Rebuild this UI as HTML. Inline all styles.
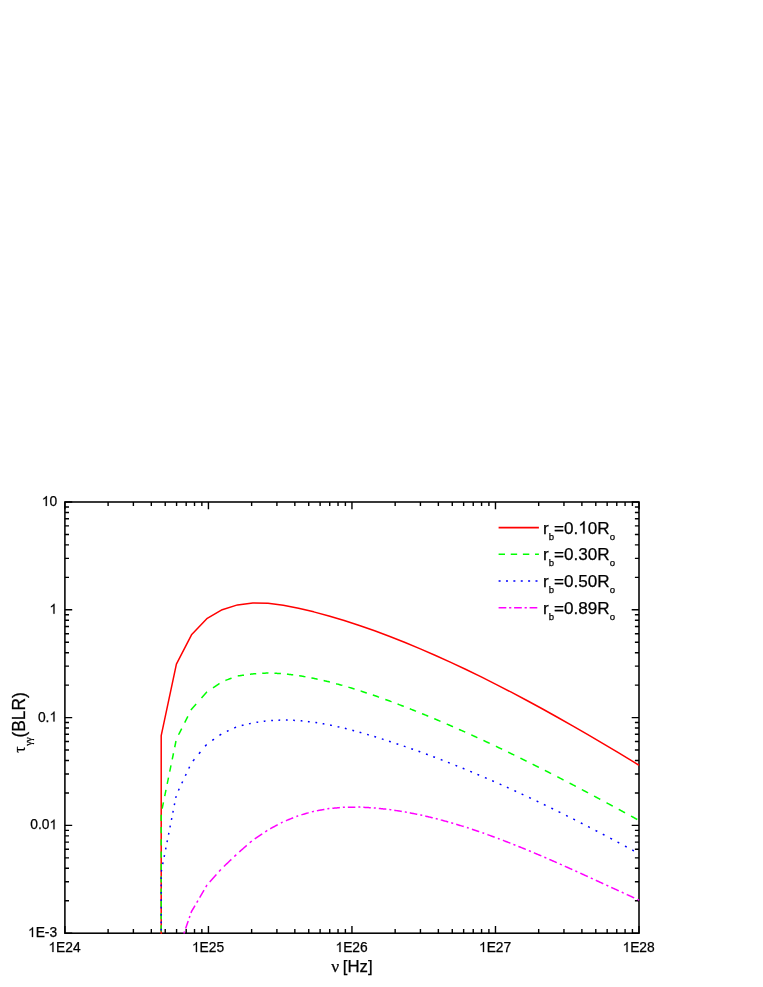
<!DOCTYPE html>
<html><head><meta charset="utf-8"><title>tau BLR</title>
<style>
html,body{margin:0;padding:0;background:#fff;}
body{width:763px;height:987px;overflow:hidden;font-family:"Liberation Sans",sans-serif;}
svg{display:block;}
svg text{font-family:"Liberation Sans",sans-serif;fill:#000;stroke:#000;stroke-width:0.25px;}
.sym{font-family:"Liberation Serif",serif;}
svg text{font-kerning:none;}
.h{fill:none;stroke:none;}
</style></head><body>
<svg width="763" height="987" viewBox="0 0 763 987">
<rect width="763" height="987" fill="#fff"/>
<rect x="64.9" y="502" width="574.1" height="431.2" fill="none" stroke="#000" stroke-width="1.55"/>
<path d="M64.9 933.2v-7.3M64.9 502v7.3M64.9 933.2h7.3M639 933.2h-7.3M108.11 933.2v-4.1M108.11 502v4.1M64.9 900.75h4.1M639 900.75h-4.1M133.38 933.2v-4.1M133.38 502v4.1M64.9 881.77h4.1M639 881.77h-4.1M151.31 933.2v-4.1M151.31 502v4.1M64.9 868.3h4.1M639 868.3h-4.1M165.22 933.2v-4.1M165.22 502v4.1M64.9 857.85h4.1M639 857.85h-4.1M176.58 933.2v-4.1M176.58 502v4.1M64.9 849.32h4.1M639 849.32h-4.1M186.19 933.2v-4.1M186.19 502v4.1M64.9 842.1h4.1M639 842.1h-4.1M194.52 933.2v-4.1M194.52 502v4.1M64.9 835.85h4.1M639 835.85h-4.1M201.86 933.2v-4.1M201.86 502v4.1M64.9 830.33h4.1M639 830.33h-4.1M208.43 933.2v-7.3M208.43 502v7.3M64.9 825.4h7.3M639 825.4h-7.3M251.63 933.2v-4.1M251.63 502v4.1M64.9 792.95h4.1M639 792.95h-4.1M276.9 933.2v-4.1M276.9 502v4.1M64.9 773.97h4.1M639 773.97h-4.1M294.84 933.2v-4.1M294.84 502v4.1M64.9 760.5h4.1M639 760.5h-4.1M308.74 933.2v-4.1M308.74 502v4.1M64.9 750.05h4.1M639 750.05h-4.1M320.11 933.2v-4.1M320.11 502v4.1M64.9 741.52h4.1M639 741.52h-4.1M329.72 933.2v-4.1M329.72 502v4.1M64.9 734.3h4.1M639 734.3h-4.1M338.04 933.2v-4.1M338.04 502v4.1M64.9 728.05h4.1M639 728.05h-4.1M345.38 933.2v-4.1M345.38 502v4.1M64.9 722.53h4.1M639 722.53h-4.1M351.95 933.2v-7.3M351.95 502v7.3M64.9 717.6h7.3M639 717.6h-7.3M395.16 933.2v-4.1M395.16 502v4.1M64.9 685.15h4.1M639 685.15h-4.1M420.43 933.2v-4.1M420.43 502v4.1M64.9 666.17h4.1M639 666.17h-4.1M438.36 933.2v-4.1M438.36 502v4.1M64.9 652.7h4.1M639 652.7h-4.1M452.27 933.2v-4.1M452.27 502v4.1M64.9 642.25h4.1M639 642.25h-4.1M463.63 933.2v-4.1M463.63 502v4.1M64.9 633.72h4.1M639 633.72h-4.1M473.24 933.2v-4.1M473.24 502v4.1M64.9 626.5h4.1M639 626.5h-4.1M481.57 933.2v-4.1M481.57 502v4.1M64.9 620.25h4.1M639 620.25h-4.1M488.91 933.2v-4.1M488.91 502v4.1M64.9 614.73h4.1M639 614.73h-4.1M495.48 933.2v-7.3M495.48 502v7.3M64.9 609.8h7.3M639 609.8h-7.3M538.68 933.2v-4.1M538.68 502v4.1M64.9 577.35h4.1M639 577.35h-4.1M563.95 933.2v-4.1M563.95 502v4.1M64.9 558.37h4.1M639 558.37h-4.1M581.89 933.2v-4.1M581.89 502v4.1M64.9 544.9h4.1M639 544.9h-4.1M595.79 933.2v-4.1M595.79 502v4.1M64.9 534.45h4.1M639 534.45h-4.1M607.16 933.2v-4.1M607.16 502v4.1M64.9 525.92h4.1M639 525.92h-4.1M616.77 933.2v-4.1M616.77 502v4.1M64.9 518.7h4.1M639 518.7h-4.1M625.09 933.2v-4.1M625.09 502v4.1M64.9 512.45h4.1M639 512.45h-4.1M632.43 933.2v-4.1M632.43 502v4.1M64.9 506.93h4.1M639 506.93h-4.1M639 933.2v-7.3M639 502v7.3M64.9 502h7.3M639 502h-7.3" stroke="#000" stroke-width="1.4" fill="none"/>
<g fill="none" stroke-width="1.5" stroke-linejoin="round">
<path d="M183.87 933.4 184.13 932.66 184.39 931.91 184.57 931.41M185.61 928.42 185.87 927.68 186.13 926.93 186.39 926.18 186.65 925.44 186.91 924.69 187.17 923.94 187.43 923.2 187.69 922.45 187.95 921.7 188.21 920.96M189.25 917.97 189.51 917.22 189.77 916.48 189.94 915.98M190.98 912.99 191.24 912.25 191.5 911.5 191.94 910.75 192.37 910 192.81 909.25 193.25 908.51 193.69 907.76 194.12 907.01 194.56 906.26 195 905.51M196.75 902.52 197.18 901.77 197.62 901.02 197.91 900.52M199.66 897.53 200.1 896.78 200.53 896.03 200.97 895.28 201.41 894.53 201.85 893.78 202.28 893.04 202.72 892.29 203.16 891.54 203.59 890.79 204.03 890.04M205.78 887.05 206.22 886.3 206.65 885.55 207.02 885.05M209.7 882.06 210.37 881.31 211.04 880.56 211.71 879.82 212.38 879.07 213.05 878.32 213.72 877.57 214.39 876.82 215.06 876.08 215.73 875.33 216.4 874.58M219.08 871.59 219.74 870.84 220.41 870.09 220.86 869.6M223.93 866.45 224.67 865.75 225.41 865.04 226.15 864.33 226.89 863.63 227.63 862.92 228.37 862.21 229.11 861.51 229.85 860.8 230.59 860.09 231.33 859.39M234.29 856.56 235.03 855.85 235.77 855.15 236.27 854.68M239.25 851.97 240 851.32 240.75 850.66 241.49 850.01 242.24 849.35 242.99 848.7 243.74 848.04 244.49 847.39 245.24 846.73 245.99 846.08 246.74 845.42M249.73 842.8 250.48 842.15 251.23 841.49 251.73 841.05M254.73 838.84 255.48 838.33 256.23 837.83 256.97 837.32 257.72 836.82 258.47 836.31 259.22 835.81 259.97 835.3 260.72 834.8 261.47 834.29 262.22 833.79M265.21 831.77 265.96 831.27 266.71 830.76 267.21 830.42M270.21 828.72 270.96 828.32 271.71 827.93 272.45 827.53 273.2 827.13 273.95 826.73 274.7 826.33 275.45 825.93 276.2 825.53 276.95 825.13 277.7 824.73M280.94 823.01 281.69 822.61 282.44 822.21 282.69 822.08M285.94 820.7 286.69 820.4 287.43 820.1 288.18 819.8 288.93 819.5 289.68 819.2 290.43 818.89 291.18 818.59 291.93 818.29 292.68 817.99 293.18 817.79M296.42 816.48 297.17 816.18 297.92 815.88 298.17 815.78M301.42 814.82 302.17 814.61 302.91 814.4 303.66 814.18 304.41 813.97 305.16 813.76 305.91 813.54 306.66 813.33 307.41 813.12 308.16 812.9 308.66 812.76M311.9 811.84 312.65 811.62 313.4 811.41 313.9 811.29M316.9 810.75 317.64 810.62 318.39 810.48 319.14 810.35 319.89 810.21 320.64 810.08 321.39 809.94 322.14 809.81 322.89 809.67 323.64 809.54 324.39 809.4M327.38 808.86 328.13 808.73 328.88 808.59 329.38 808.55M332.38 808.29 333.12 808.22 333.87 808.15 334.62 808.09 335.37 808.02 336.12 807.95 336.87 807.89 337.62 807.82 338.37 807.76 339.12 807.69 339.87 807.62M342.86 807.36 343.61 807.29 344.36 807.25 344.86 807.24M347.86 807.21 348.6 807.2 349.35 807.2 350.1 807.19 350.85 807.18 351.6 807.17 352.35 807.17 353.1 807.16 353.85 807.15 354.6 807.14 355.35 807.14M358.34 807.11 359.09 807.1 359.84 807.12 360.34 807.15M363.33 807.32 364.08 807.36 364.83 807.4 365.58 807.44 366.33 807.48 367.08 807.52 367.83 807.57 368.58 807.61 369.33 807.65 370.08 807.69 370.82 807.73M373.82 807.9 374.57 807.94 375.32 808.02 375.82 808.07M378.81 808.4 379.56 808.48 380.31 808.56 381.06 808.64 381.81 808.72 382.56 808.8 383.31 808.88 384.06 808.96 384.81 809.04 385.56 809.12 386.3 809.2M389.3 809.53 390.05 809.62 390.8 809.73 391.3 809.81M394.29 810.27 395.04 810.39 395.79 810.5 396.54 810.62 397.29 810.73 398.04 810.85 398.79 810.96 399.54 811.08 400.29 811.19 401.04 811.31 401.78 811.42M404.78 811.88 405.53 812.02 406.28 812.16 406.78 812.26M409.77 812.85 410.52 812.99 411.27 813.14 412.02 813.29 412.77 813.43 413.52 813.58 414.27 813.73 415.02 813.87 415.77 814.02 416.51 814.17 417.26 814.31M420.26 814.9 421.01 815.08 421.76 815.25 422.26 815.37M425.25 816.07 426 816.25 426.75 816.43 427.5 816.6 428.25 816.78 429 816.96 429.75 817.13 430.5 817.31 431.25 817.48 431.99 817.66 432.74 817.84M435.74 818.55 436.49 818.75 437.24 818.96 437.74 819.09M440.73 819.9 441.48 820.11 442.23 820.31 442.98 820.51 443.73 820.72 444.48 820.92 445.23 821.12 445.98 821.33 446.73 821.53 447.47 821.73 448.22 821.93M451.22 822.76 451.97 822.99 452.72 823.22 453.22 823.37M456.21 824.28 456.96 824.51 457.71 824.74 458.46 824.97 459.21 825.19 459.96 825.42 460.71 825.65 461.46 825.88 462.2 826.1 462.95 826.33 463.7 826.56M466.95 827.58 467.7 827.83 468.45 828.08 468.7 828.16M471.94 829.24 472.69 829.49 473.44 829.75 474.19 830 474.94 830.25 475.69 830.5 476.44 830.75 477.19 831 477.93 831.25 478.68 831.5 479.18 831.66M482.43 832.78 483.18 833.05 483.93 833.32 484.18 833.41M487.42 834.58 488.17 834.85 488.92 835.12 489.67 835.39 490.42 835.66 491.17 835.93 491.92 836.2 492.66 836.47 493.41 836.74 494.16 837.01 494.66 837.19M497.91 838.4 498.66 838.68 499.41 838.97 499.66 839.07M502.9 840.31 503.65 840.6 504.4 840.89 505.15 841.18 505.9 841.46 506.65 841.75 507.4 842.04 508.14 842.33 508.89 842.62 509.64 842.9 510.39 843.19M513.39 844.38 514.14 844.68 514.89 844.98 515.39 845.18M518.38 846.4 519.13 846.7 519.88 847 520.63 847.3 521.38 847.61 522.13 847.91 522.88 848.21 523.62 848.52 524.37 848.82 525.12 849.12 525.87 849.42M528.87 850.67 529.62 850.99 530.37 851.3 530.86 851.51M533.86 852.77 534.61 853.09 535.36 853.41 536.11 853.72 536.86 854.04 537.61 854.35 538.35 854.67 539.1 854.98 539.85 855.3 540.6 855.62 541.35 855.93M544.35 857.23 545.1 857.55 545.85 857.88 546.34 858.1M549.34 859.4 550.09 859.73 550.84 860.05 551.59 860.38 552.34 860.71 553.09 861.03 553.83 861.36 554.58 861.68 555.33 862.01 556.08 862.34 556.83 862.66M559.83 864 560.58 864.33 561.32 864.66 561.82 864.89M564.82 866.22 565.57 866.56 566.32 866.89 567.07 867.23 567.82 867.56 568.57 867.9 569.31 868.23 570.06 868.57 570.81 868.9 571.56 869.23 572.31 869.57M575.31 870.93 576.06 871.27 576.8 871.61 577.3 871.83M580.3 873.19 581.05 873.53 581.8 873.87 582.55 874.21 583.3 874.55 584.04 874.89 584.79 875.24 585.54 875.58 586.29 875.92 587.04 876.26 587.79 876.6M590.79 877.97 591.54 878.31 592.28 878.66 592.78 878.89M595.78 880.26 596.53 880.6 597.28 880.95 598.03 881.29 598.78 881.63 599.52 881.98 600.27 882.32 601.02 882.66 601.77 883.01 602.52 883.35 603.27 883.7M606.27 885.07 607.01 885.42 607.76 885.76 608.26 885.99M611.26 887.37 612.01 887.72 612.76 888.06 613.51 888.4 614.26 888.75 615 889.09 615.75 889.44 616.5 889.78 617.25 890.13 618 890.47 618.75 890.82M621.75 892.19 622.49 892.53 623.24 892.88 623.74 893.1M626.74 894.48 627.49 894.82 628.24 895.16 628.99 895.51 629.73 895.85 630.48 896.19 631.23 896.54 631.98 896.88 632.73 897.22 633.48 897.57 634.2 897.89M637.32 899.32 638.04 899.64 638.76 899.97 639 900.08" stroke="#ff00ff"/>
<path d="M161.2 933.9 L161.2 735.6 L176.4 664.1 L191.5 634.8 L206.8 618.7 L222.2 609.7 L237.5 604.9 L252.8 603 L268.03 603.28 L283.26 605.21 L298.49 608.22 L313.72 611.85 L328.95 615.95 L344.18 620.5 L359.41 625.47 L374.64 630.82 L389.87 636.53 L405.1 642.56 L420.33 648.88 L435.56 655.5 L450.79 662.38 L466.02 669.53 L481.25 676.93 L496.48 684.57 L511.71 692.43 L526.94 700.5 L542.17 708.77 L557.4 717.23 L572.63 725.87 L587.86 734.67 L603.09 743.62 L618.32 752.7 L633.55 761.92 L639 765.24" stroke="#ff0000"/>
<path d="M161.2 931.4 161.2 930.65 161.2 929.9 161.2 929.15 161.2 928.4 161.2 927.65 161.2 926.9 161.2 926.15 161.2 925.4 161.2 925.15M161.2 919.15 161.2 918.4 161.2 917.65 161.2 916.9 161.2 916.15 161.2 915.4 161.2 914.65 161.2 913.9 161.2 913.15 161.2 912.9M161.2 906.9 161.2 906.15 161.2 905.4 161.2 904.65 161.2 903.9 161.2 903.15 161.2 902.4 161.2 901.65 161.2 900.9 161.2 900.65M161.2 894.65 161.2 893.9 161.2 893.15 161.2 892.4 161.2 891.65 161.2 890.9 161.2 890.15 161.2 889.4 161.2 888.65 161.2 888.4M161.2 882.4 161.2 881.65 161.2 880.9 161.2 880.15 161.2 879.4 161.2 878.65 161.2 877.9 161.2 877.15 161.2 876.4 161.2 876.15M161.2 869.9 161.2 869.15 161.2 868.4 161.2 867.65 161.2 866.9 161.2 866.15 161.2 865.4 161.2 864.65 161.2 863.9 161.2 863.65M161.2 857.65 161.2 856.9 161.2 856.15 161.2 855.4 161.2 854.65 161.2 853.9 161.2 853.15 161.2 852.4 161.2 851.65 161.2 851.4M161.2 845.4 161.2 844.65 161.2 843.9 161.2 843.15 161.2 842.4 161.2 841.65 161.2 840.9 161.2 840.15 161.2 839.4 161.2 839.15M161.2 833.15 161.2 832.4 161.2 831.65 161.2 830.9 161.2 830.15 161.2 829.4 161.2 828.65 161.2 827.9 161.2 827.15 161.2 826.9M161.2 820.9 161.2 820.15 161.2 819.4 161.2 818.65 161.2 817.9 161.2 817.15 161.2 816.4 161.2 815.65 161.2 814.9 161.2 814.65M162.17 808.66 162.32 807.91 162.48 807.16 162.63 806.41 162.78 805.66 162.93 804.91 163.09 804.16 163.24 803.41 163.39 802.66 163.44 802.41M164.72 796.17 164.87 795.42 165.03 794.68 165.18 793.93 165.33 793.18 165.48 792.43 165.64 791.68 165.79 790.93 165.94 790.18 165.99 789.93M167.22 783.94 167.37 783.19 167.52 782.44 167.68 781.69 167.83 780.94 167.98 780.19 168.14 779.45 168.29 778.7 168.44 777.95 168.49 777.7M169.72 771.71 169.87 770.96 170.02 770.21 170.18 769.46 170.33 768.71 170.48 767.96 170.64 767.21 170.79 766.46 170.94 765.71 170.99 765.46M172.22 759.47 172.37 758.72 172.52 757.97 172.68 757.23 172.83 756.48 172.98 755.73 173.14 754.98 173.29 754.23 173.44 753.48 173.49 753.23M174.72 747.24 174.87 746.49 175.02 745.74 175.18 744.99 175.33 744.24 175.48 743.49 175.63 742.74 175.79 742 175.94 741.25 175.99 741M178.54 734.78 178.92 734.03 179.29 733.29 179.67 732.54 180.05 731.8 180.43 731.05 180.8 730.31 181.18 729.56 181.56 728.82 181.69 728.57M184.71 722.61 185.08 721.87 185.46 721.12 185.84 720.38 186.22 719.63 186.59 718.88 186.97 718.14 187.35 717.39 187.72 716.65 187.85 716.4M191 710.19 191.37 709.45 191.94 708.7 192.61 707.95 193.27 707.21 193.94 706.46 194.6 705.71 195.27 704.96 195.93 704.21 196.16 703.97M201.48 697.98 202.14 697.23 202.81 696.49 203.47 695.74 204.14 694.99 204.8 694.24 205.47 693.5 206.13 692.75 206.8 692 207.05 691.83M213.01 687.81 213.75 687.3 214.5 686.8 215.25 686.3 215.99 685.79 216.74 685.29 217.48 684.79 218.23 684.28 218.97 683.78 219.47 683.45M225.41 680.43 226.15 680.15 226.89 679.88 227.63 679.61 228.37 679.34 229.11 679.07 229.85 678.8 230.59 678.53 231.33 678.26 231.58 678.17M237.75 675.97 238.5 675.86 239.25 675.76 240 675.66 240.75 675.55 241.49 675.45 242.24 675.35 242.99 675.25 243.74 675.14 243.99 675.11M249.98 674.29 250.73 674.18 251.48 674.08 252.23 673.98 252.98 673.9 253.73 673.85 254.48 673.8 255.23 673.76 255.98 673.71 256.23 673.69M262.22 673.32 262.97 673.27 263.72 673.23 264.46 673.18 265.21 673.13 265.96 673.09 266.71 673.04 267.46 672.99 268.21 672.97 268.46 672.99M274.45 673.25 275.2 673.29 275.95 673.32 276.7 673.35 277.45 673.39 278.2 673.42 278.95 673.45 279.69 673.49 280.44 673.52 280.94 673.54M286.94 674.11 287.68 674.21 288.43 674.3 289.18 674.39 289.93 674.49 290.68 674.58 291.43 674.67 292.18 674.77 292.93 674.86 293.18 674.89M299.17 675.68 299.92 675.82 300.67 675.95 301.42 676.09 302.17 676.23 302.91 676.36 303.66 676.5 304.41 676.63 305.16 676.77 305.41 676.81M311.4 677.9 312.15 678.03 312.9 678.17 313.65 678.31 314.4 678.48 315.15 678.65 315.9 678.82 316.65 678.99 317.4 679.16 317.64 679.21M323.64 680.58 324.39 680.75 325.13 680.92 325.88 681.09 326.63 681.26 327.38 681.43 328.13 681.6 328.88 681.77 329.63 681.97 329.88 682.04M336.12 683.72 336.87 683.92 337.62 684.12 338.37 684.32 339.12 684.52 339.87 684.72 340.61 684.92 341.36 685.12 342.11 685.32 342.36 685.39M348.35 687.15 349.1 687.38 349.85 687.61 350.6 687.84 351.35 688.06 352.1 688.29 352.85 688.52 353.6 688.75 354.35 688.98 354.6 689.05M360.59 690.91 361.34 691.16 362.09 691.42 362.84 691.67 363.58 691.92 364.33 692.17 365.08 692.42 365.83 692.67 366.58 692.92 366.83 693M372.82 695.01 373.57 695.26 374.32 695.51 375.07 695.78 375.82 696.04 376.57 696.31 377.32 696.58 378.07 696.85 378.81 697.12 379.06 697.21M385.31 699.46 386.05 699.73 386.8 700 387.55 700.27 388.3 700.54 389.05 700.81 389.8 701.08 390.55 701.36 391.3 701.65 391.55 701.74M397.54 704.02 398.29 704.3 399.04 704.59 399.79 704.87 400.54 705.16 401.28 705.44 402.03 705.73 402.78 706.01 403.53 706.3 403.78 706.39M409.77 708.75 410.52 709.05 411.27 709.34 412.02 709.64 412.77 709.94 413.52 710.24 414.27 710.53 415.02 710.83 415.77 711.13 416.02 711.23M422.01 713.63 422.76 713.94 423.51 714.25 424.25 714.56 425 714.87 425.75 715.18 426.5 715.49 427.25 715.8 428 716.11 428.25 716.21M434.24 718.68 434.99 718.99 435.74 719.3 436.49 719.62 437.24 719.95 437.99 720.27 438.74 720.59 439.48 720.91 440.23 721.23 440.48 721.33M446.73 724 447.47 724.33 448.22 724.65 448.97 724.97 449.72 725.29 450.47 725.61 451.22 725.94 451.97 726.27 452.72 726.6 452.97 726.71M458.96 729.36 459.71 729.69 460.46 730.02 461.21 730.35 461.96 730.68 462.7 731.01 463.45 731.35 464.2 731.68 464.95 732.01 465.2 732.12M471.19 734.84 471.94 735.18 472.69 735.52 473.44 735.86 474.19 736.2 474.94 736.55 475.69 736.89 476.44 737.23 477.19 737.57 477.43 737.68M483.43 740.44 484.18 740.79 484.93 741.14 485.67 741.49 486.42 741.85 487.17 742.2 487.92 742.55 488.67 742.9 489.42 743.25 489.67 743.37M495.91 746.29 496.66 746.64 497.41 747 498.16 747.36 498.91 747.72 499.66 748.08 500.4 748.44 501.15 748.8 501.9 749.16 502.15 749.28M508.14 752.16 508.89 752.52 509.64 752.88 510.39 753.24 511.14 753.6 511.89 753.96 512.64 754.33 513.39 754.7 514.14 755.07 514.39 755.19M520.38 758.13 521.13 758.5 521.88 758.87 522.63 759.24 523.37 759.61 524.12 759.97 524.87 760.34 525.62 760.71 526.37 761.08 526.62 761.2M532.61 764.2 533.36 764.58 534.11 764.96 534.86 765.33 535.61 765.71 536.36 766.08 537.11 766.46 537.86 766.84 538.6 767.21 538.85 767.34M544.85 770.37 545.6 770.75 546.34 771.13 547.09 771.52 547.84 771.9 548.59 772.28 549.34 772.67 550.09 773.05 550.84 773.43 551.09 773.56M557.33 776.75 558.08 777.14 558.83 777.53 559.58 777.92 560.33 778.31 561.08 778.7 561.82 779.09 562.57 779.48 563.32 779.87 563.57 780M569.56 783.11 570.31 783.5 571.06 783.89 571.81 784.28 572.56 784.67 573.31 785.06 574.06 785.46 574.81 785.85 575.56 786.25 575.81 786.38M581.8 789.54 582.55 789.94 583.3 790.33 584.04 790.73 584.79 791.12 585.54 791.52 586.29 791.92 587.04 792.31 587.79 792.71 588.04 792.84M594.03 796.04 594.78 796.45 595.53 796.85 596.28 797.25 597.03 797.65 597.78 798.05 598.53 798.45 599.27 798.85 600.02 799.25 600.27 799.38M606.52 802.74 607.26 803.15 608.01 803.55 608.76 803.96 609.51 804.36 610.26 804.77 611.01 805.18 611.76 805.58 612.51 805.99 612.76 806.12M618.75 809.37 619.5 809.78 620.25 810.18 621 810.59 621.75 811 622.49 811.41 623.24 811.82 623.99 812.23 624.74 812.64 624.99 812.78M630.98 816.05 631.73 816.46 632.48 816.87 633.23 817.28 633.96 817.68 634.68 818.08 635.4 818.47 636.12 818.87 636.84 819.27 637.32 819.53" stroke="#00ff00"/>
<path d="M161.2 930.41 161.2 929.66 161.2 928.91 161.2 928.66M161.2 923.18 161.2 922.43 161.2 921.68 161.2 921.43M161.2 915.69 161.2 914.95 161.2 914.2 161.2 913.95M161.2 908.46 161.2 907.71 161.2 906.97 161.2 906.72M161.2 900.98 161.2 900.23 161.2 899.48 161.2 899.23M161.2 893.75 161.2 893 161.2 892.25 161.2 892M161.2 886.27 161.2 885.52 161.2 884.77 161.2 884.52M161.2 879.03 161.2 878.28 161.2 877.54 161.2 877.29M161.25 871.55 161.4 870.8 161.54 870.05 161.59 869.8M162.72 864.07 162.87 863.32 163.02 862.57 163.07 862.32M164.15 856.83 164.3 856.08 164.45 855.33 164.5 855.08M165.63 849.34 165.77 848.6 165.92 847.85 165.97 847.6M167.05 842.11 167.2 841.36 167.35 840.61 167.4 840.36M168.53 834.62 168.68 833.87 168.82 833.13 168.87 832.88M169.96 827.39 170.1 826.64 170.25 825.89 170.3 825.64M171.43 819.9 171.58 819.15 171.73 818.4 171.78 818.15M172.86 812.67 173.01 811.92 173.15 811.17 173.2 810.92M174.33 805.18 174.48 804.43 174.63 803.68 174.68 803.43M175.76 797.94 175.91 797.2 176.06 796.45 176.1 796.2M178.41 790.45 178.76 789.7 179.11 788.95 179.23 788.7M181.83 783.2 182.18 782.45 182.53 781.7 182.65 781.45M185.37 775.7 185.72 774.95 186.07 774.2 186.19 773.95M188.79 768.45 189.14 767.7 189.49 766.95 189.61 766.7M192.95 760.96 193.57 760.21 194.19 759.47 194.39 759.22M198.94 753.75 199.56 753 200.18 752.26 200.39 752.01M205.15 746.29 205.77 745.54 206.39 744.8 206.59 744.55M212.26 740.47 213.01 739.95 213.75 739.42 214 739.25M219.47 735.42 220.21 734.89 220.96 734.37 221.21 734.2M226.89 731.35 227.63 731.02 228.37 730.68 228.62 730.56M234.29 727.97 235.03 727.63 235.77 727.29 236.02 727.18M241.74 725.5 242.49 725.32 243.24 725.14 243.49 725.09M248.98 723.79 249.73 723.61 250.48 723.44 250.73 723.38M256.48 722.35 257.22 722.24 257.97 722.13 258.22 722.09M263.72 721.27 264.46 721.16 265.21 721.05 265.46 721.01M271.21 720.49 271.95 720.46 272.7 720.43 272.95 720.42M278.45 720.17 279.2 720.14 279.94 720.1 280.19 720.09M285.94 720.06 286.69 720.09 287.43 720.12 287.68 720.13M293.18 720.33 293.93 720.36 294.67 720.39 294.92 720.4M300.67 720.78 301.42 720.86 302.17 720.94 302.41 720.97M307.91 721.56 308.66 721.64 309.41 721.73 309.66 721.75M315.4 722.48 316.15 722.61 316.9 722.74 317.15 722.78M322.64 723.71 323.39 723.84 324.14 723.97 324.39 724.01M330.13 725.05 330.88 725.22 331.63 725.38 331.88 725.44M337.62 726.71 338.37 726.87 339.12 727.04 339.37 727.09M344.86 728.34 345.61 728.53 346.36 728.73 346.61 728.8M352.35 730.3 353.1 730.5 353.85 730.7 354.1 730.76M359.59 732.21 360.34 732.43 361.09 732.65 361.34 732.73M367.08 734.41 367.83 734.63 368.58 734.85 368.83 734.93M374.32 736.54 375.07 736.77 375.82 737.01 376.07 737.09M381.81 738.9 382.56 739.14 383.31 739.38 383.56 739.46M389.05 741.19 389.8 741.43 390.55 741.68 390.8 741.76M396.54 743.69 397.29 743.94 398.04 744.19 398.29 744.27M403.78 746.11 404.53 746.36 405.28 746.62 405.53 746.71M411.27 748.73 412.02 749 412.77 749.26 413.02 749.35M418.51 751.29 419.26 751.55 420.01 751.81 420.26 751.9M426 754.03 426.75 754.31 427.5 754.58 427.75 754.68M433.24 756.71 433.99 756.99 434.74 757.26 434.99 757.36M440.73 759.57 441.48 759.86 442.23 760.15 442.48 760.25M447.97 762.37 448.72 762.66 449.47 762.95 449.72 763.05M455.46 765.35 456.21 765.65 456.96 765.95 457.21 766.05M462.7 768.27 463.45 768.57 464.2 768.87 464.45 768.97M470.19 771.36 470.94 771.67 471.69 771.98 471.94 772.09M477.43 774.39 478.18 774.7 478.93 775.02 479.18 775.12M484.93 777.58 485.67 777.91 486.42 778.23 486.67 778.34M492.17 780.72 492.91 781.05 493.66 781.37 493.91 781.48M499.66 784.02 500.4 784.35 501.15 784.69 501.4 784.8M506.9 787.26 507.65 787.59 508.39 787.93 508.64 788.04M514.39 790.65 515.14 791 515.88 791.34 516.13 791.46M521.63 793.99 522.38 794.34 523.12 794.69 523.37 794.8M529.12 797.48 529.87 797.84 530.62 798.19 530.86 798.31M536.61 801.04 537.36 801.39 538.11 801.75 538.35 801.87M543.85 804.5 544.6 804.86 545.35 805.23 545.6 805.35M551.34 808.14 552.09 808.51 552.84 808.87 553.09 809M558.58 811.69 559.33 812.06 560.08 812.43 560.33 812.56M566.07 815.42 566.82 815.8 567.57 816.17 567.82 816.29M573.31 819.04 574.06 819.43 574.81 819.81 575.06 819.93M580.8 822.86 581.55 823.25 582.3 823.63 582.55 823.76M588.04 826.56 588.79 826.95 589.54 827.34 589.79 827.47M595.53 830.46 596.28 830.85 597.03 831.24 597.28 831.37M602.77 834.23 603.52 834.62 604.27 835.02 604.52 835.15M610.26 838.2 611.01 838.6 611.76 838.99 612.01 839.13M617.5 842.04 618.25 842.44 619 842.84 619.25 842.98M624.99 846.08 625.74 846.48 626.49 846.89 626.74 847.02M632.23 849.99 632.98 850.39 633.72 850.79 633.96 850.92" stroke="#0000ff"/>
</g>
<path d="M498.6 527.6H538.9" stroke="#ff0000" stroke-width="1.6" fill="none"/>
<path d="M498.6 554.3H538.9" stroke="#00ff00" stroke-width="1.6" fill="none" stroke-dasharray="6.4 5.74"/>
<path d="M498.6 581H538.9" stroke="#0000ff" stroke-width="1.6" fill="none" stroke-dasharray="2 5.38"/>
<path d="M498.6 607.8H538.9" stroke="#ff00ff" stroke-width="1.6" fill="none" stroke-dasharray="7.7 2.8 2.2 2.8"/>
<g id="labels" style="filter:grayscale(1)">
<text x="48.39" y="952" font-size="13.8"><tspan class="h">1</tspan>E24</text>
<text x="191.91" y="952" font-size="13.8"><tspan class="h">1</tspan>E25</text>
<text x="335.44" y="952" font-size="13.8"><tspan class="h">1</tspan>E26</text>
<text x="478.96" y="952" font-size="13.8"><tspan class="h">1</tspan>E27</text>
<text x="622.49" y="952" font-size="13.8"><tspan class="h">1</tspan>E28</text>
<text x="27.95" y="937.1" font-size="13.8"><tspan class="h">1</tspan>E-3</text>
<text x="30.24" y="829.3" font-size="13.8">0.0<tspan class="h">1</tspan></text>
<text x="37.92" y="721.5" font-size="13.8">0.<tspan class="h">1</tspan></text>
<text x="49.43" y="613.7" font-size="13.8"><tspan class="h">1</tspan></text>
<text x="41.75" y="505.9" font-size="13.8"><tspan class="h">1</tspan>0</text>
<text x="543" y="533.6" font-size="17.1">r<tspan dy="6.0" font-size="9.6">b</tspan><tspan dy="-6.0">=</tspan>0.<tspan class="h">1</tspan>0R<tspan dy="6.0" font-size="9.6">o</tspan></text>
<text x="543" y="560.3" font-size="17.1">r<tspan dy="6.0" font-size="9.6">b</tspan><tspan dy="-6.0">=</tspan>0.30R<tspan dy="6.0" font-size="9.6">o</tspan></text>
<text x="543" y="587" font-size="17.1">r<tspan dy="6.0" font-size="9.6">b</tspan><tspan dy="-6.0">=</tspan>0.50R<tspan dy="6.0" font-size="9.6">o</tspan></text>
<text x="543" y="613.8" font-size="17.1">r<tspan dy="6.0" font-size="9.6">b</tspan><tspan dy="-6.0">=</tspan>0.89R<tspan dy="6.0" font-size="9.6">o</tspan></text>
<g fill="#000" stroke="#000" stroke-width="30"><path transform="translate(48.39 952) scale(0.00674 -0.00674)" d="M763 0H583V1147Q518 1085 412.5 1023T223 930V1104Q374 1175 487 1276T647 1472H763Z"/>
<path transform="translate(191.91 952) scale(0.00674 -0.00674)" d="M763 0H583V1147Q518 1085 412.5 1023T223 930V1104Q374 1175 487 1276T647 1472H763Z"/>
<path transform="translate(335.44 952) scale(0.00674 -0.00674)" d="M763 0H583V1147Q518 1085 412.5 1023T223 930V1104Q374 1175 487 1276T647 1472H763Z"/>
<path transform="translate(478.96 952) scale(0.00674 -0.00674)" d="M763 0H583V1147Q518 1085 412.5 1023T223 930V1104Q374 1175 487 1276T647 1472H763Z"/>
<path transform="translate(622.49 952) scale(0.00674 -0.00674)" d="M763 0H583V1147Q518 1085 412.5 1023T223 930V1104Q374 1175 487 1276T647 1472H763Z"/>
<path transform="translate(27.95 937.1) scale(0.00674 -0.00674)" d="M763 0H583V1147Q518 1085 412.5 1023T223 930V1104Q374 1175 487 1276T647 1472H763Z"/>
<path transform="translate(49.43 829.3) scale(0.00674 -0.00674)" d="M763 0H583V1147Q518 1085 412.5 1023T223 930V1104Q374 1175 487 1276T647 1472H763Z"/>
<path transform="translate(49.43 721.5) scale(0.00674 -0.00674)" d="M763 0H583V1147Q518 1085 412.5 1023T223 930V1104Q374 1175 487 1276T647 1472H763Z"/>
<path transform="translate(49.43 613.7) scale(0.00674 -0.00674)" d="M763 0H583V1147Q518 1085 412.5 1023T223 930V1104Q374 1175 487 1276T647 1472H763Z"/>
<path transform="translate(41.75 505.9) scale(0.00674 -0.00674)" d="M763 0H583V1147Q518 1085 412.5 1023T223 930V1104Q374 1175 487 1276T647 1472H763Z"/>
<path transform="translate(578.28 533.6) scale(0.00835 -0.00835)" d="M763 0H583V1147Q518 1085 412.5 1023T223 930V1104Q374 1175 487 1276T647 1472H763Z"/></g>
<text x="331.3" y="971.6" font-size="16.8"><tspan class="sym" font-size="17.5">&#957;</tspan><tspan dx="3.5">[Hz]</tspan></text>
<text transform="translate(25 752.7) rotate(-90) scale(1 1.06)" font-size="17"><tspan class="sym" font-size="15.5">&#964;</tspan><tspan class="sym" dx="0.7" dy="6.2" font-size="10.2" letter-spacing="-0.5">&#947;&#947;</tspan><tspan dx="0.2" dy="-6.2" font-size="17.35">(BLR)</tspan></text>
</g>
</svg>
</body></html>
